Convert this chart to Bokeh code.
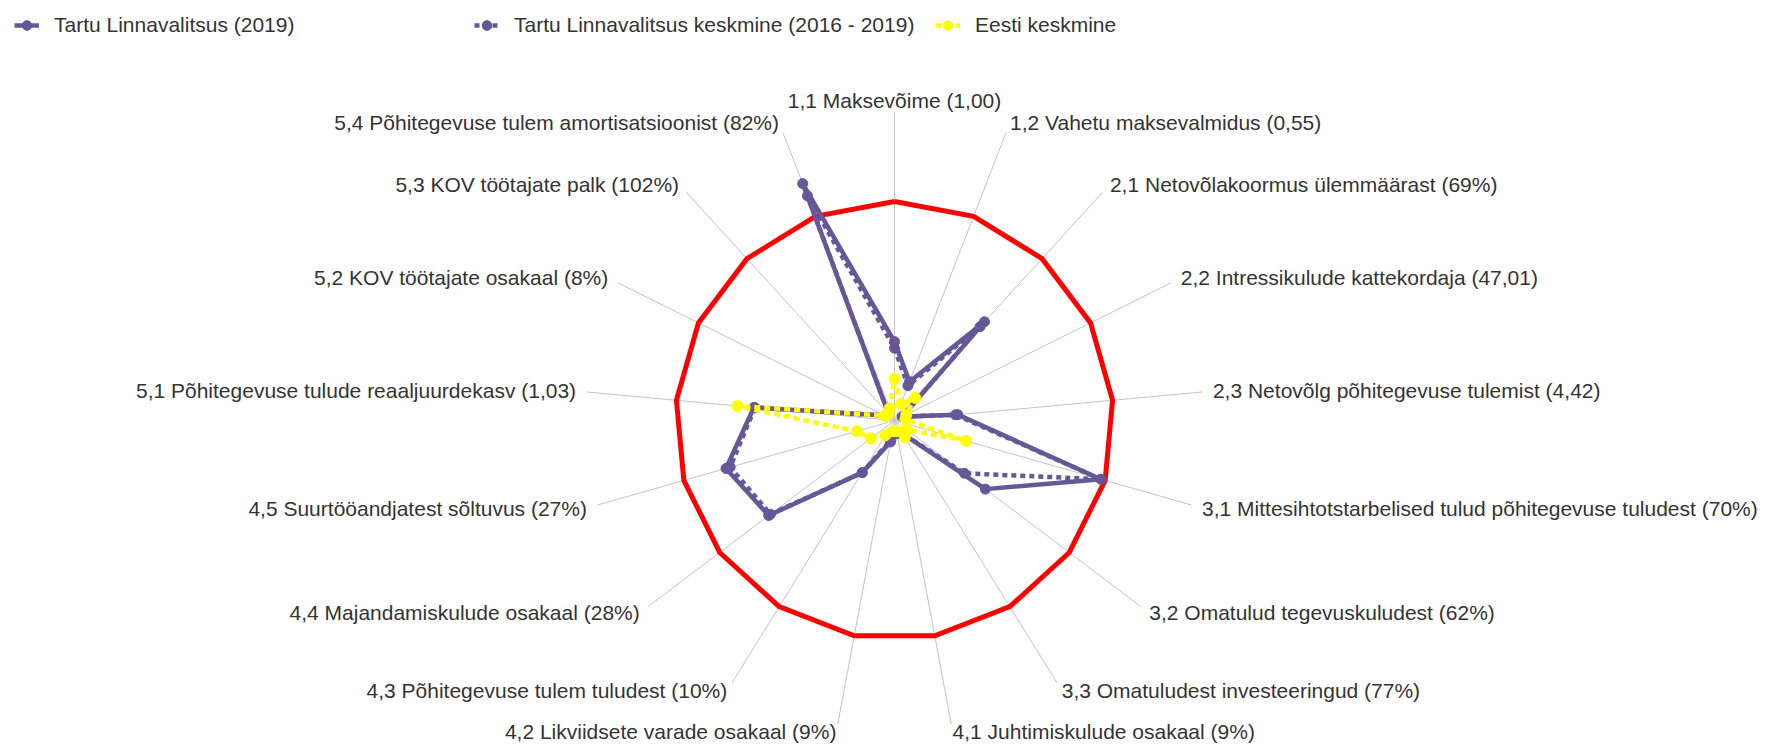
import numpy as np
from bokeh.plotting import figure
from bokeh.models import Range1d, Legend, LegendItem, ColumnDataSource
from bokeh.core.properties import value
from bokeh.embed import file_html
from bokeh.resources import INLINE

# ---- data ----
labels = [
    "1,1 Maksevõime (1,00)",
    "1,2 Vahetu maksevalmidus (0,55)",
    "2,1 Netovõlakoormus ülemmäärast (69%)",
    "2,2 Intressikulude kattekordaja (47,01)",
    "2,3 Netovõlg põhitegevuse tulemist (4,42)",
    "3,1 Mittesihtotstarbelised tulud põhitegevuse tuludest (70%)",
    "3,2 Omatulud tegevuskuludest (62%)",
    "3,3 Omatuludest investeeringud (77%)",
    "4,1 Juhtimiskulude osakaal (9%)",
    "4,2 Likviidsete varade osakaal (9%)",
    "4,3 Põhitegevuse tulem tuludest (10%)",
    "4,4 Majandamiskulude osakaal (28%)",
    "4,5 Suurtööandjatest sõltuvus (27%)",
    "5,1 Põhitegevuse tulude reaaljuurdekasv (1,03)",
    "5,2 KOV töötajate osakaal (8%)",
    "5,3 KOV töötajate palk (102%)",
    "5,4 Põhitegevuse tulem amortisatsioonist (82%)",
]
tartu_2019 = [0.36, 0.19, 0.61, 0.04, 0.29, 0.98, 0.52, 0.07, 0.06, 0.10,
              0.28, 0.72, 0.80, 0.645, 0.05, 0.04, 1.16]
tartu_keskmine = [0.33, 0.17, 0.58, 0.04, 0.28, 0.98, 0.40, 0.07, 0.06, 0.09,
                  0.28, 0.71, 0.78, 0.64, 0.05, 0.04, 1.10]
eesti_keskmine = [0.19, 0.08, 0.14, 0.06, 0.05, 0.34, 0.07, 0.09, 0.05, 0.05,
                  0.08, 0.135, 0.18, 0.72, 0.05, 0.04, 0.06]
piirvaartus = [1.0] * 17

series_names = ["Tartu Linnavalitsus (2019)",
                "Tartu Linnavalitsus keskmine (2016 - 2019)",
                "Eesti keskmine"]

# ---- layout ----
W, H = 1785, 746
CX, CY = 894, 420
R = 219.0
SPOKE = 1.41
FONT = "Liberation Sans"
PURPLE = "#675797"
YELLOW = "#FFFF00"
RED = "#FF0000"

n = len(labels)
ang = np.arange(n) * 2 * np.pi / n
sx, sy = np.sin(ang), np.cos(ang)

p = figure(width=W, height=H, output_backend="svg", toolbar_location=None,
           x_range=Range1d(-CX / R, (W - CX) / R),
           y_range=Range1d(-(H - CY) / R, CY / R),
           x_axis_location=None, y_axis_location=None,
           min_border=0, outline_line_color=None)
p.grid.visible = False
p.background_fill_color = "white"

# spokes
p.segment(x0=np.zeros(n), y0=np.zeros(n), x1=SPOKE * sx, y1=SPOKE * sy,
          line_color="#c4c4c4", line_width=1)


def closed(vals):
    v = np.array(vals + [vals[0]])
    a = np.append(ang, ang[0])
    return v * np.sin(a), v * np.cos(a)


# limit polygon
lx, ly = closed(piirvaartus)
p.line(lx, ly, line_color=RED, line_width=5, line_join="miter")

# series
ax_, ay_ = closed(tartu_2019)
ra_l = p.line(ax_, ay_, line_color=PURPLE, line_width=4.5)
ra_s = p.scatter(ax_[:-1], ay_[:-1], size=10, marker="circle",
                 fill_color=PURPLE, line_color=PURPLE)

bx_, by_ = closed(tartu_keskmine)
rb_l = p.line(bx_, by_, line_color=PURPLE, line_width=4.5, line_dash="5 4")
rb_s = p.scatter(bx_[:-1], by_[:-1], size=10, marker="circle",
                 fill_color=PURPLE, line_color=PURPLE)

cx_, cy_ = closed(eesti_keskmine)
rc_l = p.line(cx_, cy_, line_color=YELLOW, line_width=4.5, line_dash="6 4")
rc_s = p.scatter(cx_[:-1], cy_[:-1], size=11, marker="circle",
                 fill_color=YELLOW, line_color=YELLOW)

# axis labels
aligns = []
for s in sx:
    if abs(s) < 0.05:
        aligns.append("center")
    elif s > 0:
        aligns.append("left")
    else:
        aligns.append("right")
off_px = 11 - 4 * np.clip(-sy, 0, None) ** 4
lab_r = SPOKE + off_px / R
lab_src = ColumnDataSource(dict(x=lab_r * sx, y=lab_r * sy, t=labels, a=aligns))
p.text(x="x", y="y", text="t", text_align="a", text_baseline="middle",
       source=lab_src, text_font=value(FONT), text_font_size="21px",
       text_color="#333333")

# legends (three columns)
leg_x = [14, 474, 935]
rends = [[ra_l, ra_s], [rb_l, rb_s], [rc_l, rc_s]]
for lx0, name, rr in zip(leg_x, series_names, rends):
    lg = Legend(items=[LegendItem(label=name, renderers=rr)],
                location=(lx0, H - 25 - 12),
                border_line_color=None, background_fill_alpha=0,
                padding=0, margin=0, spacing=0,
                glyph_width=25, glyph_height=24, label_standoff=15,
                label_height=24,
                label_text_font=FONT, label_text_font_size="21px",
                label_text_color="#333333")
    p.add_layout(lg)

open("out.html", "w").write(file_html(p, INLINE))
